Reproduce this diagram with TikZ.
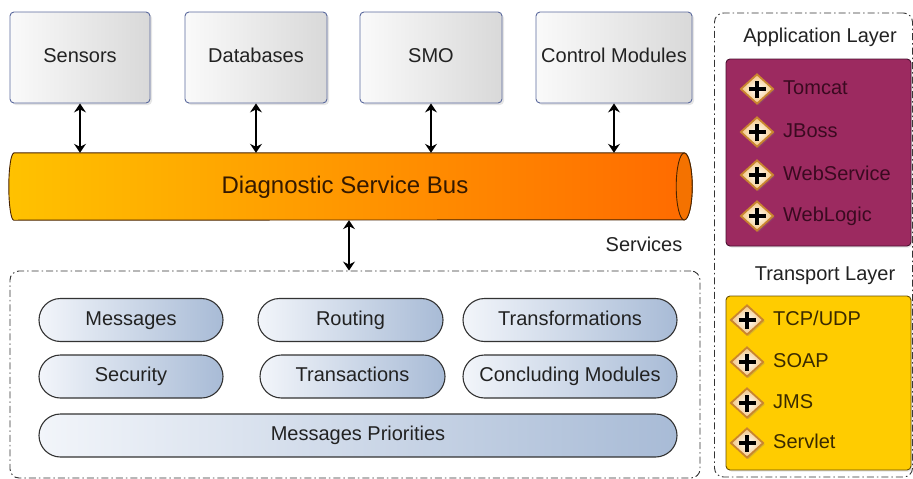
\documentclass[tikz,border=0pt]{standalone}
\usepackage{fontspec}
\setmainfont{Liberation Sans}
\usetikzlibrary{shapes.misc,shapes.geometric,arrows.meta,shadows}
\definecolor{boxborder}{HTML}{5B6A9E}
\definecolor{txt}{HTML}{222222}
\definecolor{busL}{HTML}{FFC200}
\definecolor{busR}{HTML}{FF6A00}
\definecolor{busface}{HTML}{F47200}
\definecolor{busline}{HTML}{4A2400}
\definecolor{pillL}{HTML}{F2F5FA}
\definecolor{pillR}{HTML}{A8BBD6}
\definecolor{purple1}{HTML}{9C2A60}
\definecolor{purpleline}{HTML}{4A1030}
\definecolor{purpletxt}{HTML}{3A0A20}
\definecolor{yellow1}{HTML}{FFCC00}
\definecolor{yellowline}{HTML}{6B5000}
\definecolor{yellowtxt}{HTML}{3A2A00}
\definecolor{iconedge}{HTML}{C9852F}
\definecolor{iconglow}{HTML}{F3C47E}
\tikzset{
  txtfix/.style={text height=14.5pt, text depth=4pt},
  topbox/.style={draw=boxborder, line width=0.9pt, rounded corners=4pt,
    left color=white!96!gray, right color=gray!30, minimum height=91pt,
    inner sep=0pt, font=\fontsize{20}{24}\selectfont, text=txt, txtfix,
    drop shadow={opacity=0.2, shadow xshift=2pt, shadow yshift=-2pt}},
  biarrow/.style={{Stealth[length=9pt,width=12pt,inset=3pt]}-{Stealth[length=9pt,width=12pt,inset=3pt]}, line width=1.4pt, black},
  pill/.style={rounded rectangle, draw=black!80, line width=1.1pt,
    left color=pillL, right color=pillR, minimum height=43pt, inner sep=0pt,
    font=\fontsize{20}{24}\selectfont, text=txt, txtfix},
  dashbox/.style={draw=black!80, line width=0.9pt, rounded corners=9pt,
    dash pattern=on 7pt off 3pt on 1.5pt off 3pt, inner sep=0pt},
  lbl/.style={font=\fontsize{20}{24}\selectfont, text=txt, inner sep=0pt, txtfix},
  iconmark/.style={diamond, minimum width=33pt, minimum height=30pt, inner sep=0pt,
    draw=iconedge, line width=1.8pt, inner color=white, outer color=iconglow,
    drop shadow={opacity=0.3, shadow xshift=1.5pt, shadow yshift=-1.5pt},
    path picture={\draw[line width=3.6pt,black]
      ([xshift=-8.5pt]path picture bounding box.center) -- ([xshift=8.5pt]path picture bounding box.center)
      ([yshift=-8.5pt]path picture bounding box.center) -- ([yshift=8.5pt]path picture bounding box.center);}},
  itemtxt/.style={anchor=west, font=\fontsize{20}{24}\selectfont, inner sep=0pt, txtfix},
}
\begin{document}
\begin{tikzpicture}[x=1pt,y=-1pt]
\useasboundingbox (0,0) rectangle (913,479);
\fill[white] (0,0) rectangle (913,479);

% top boxes
\node[topbox, minimum width=140pt] (sensors) at (80,57.5) {Sensors};
\node[topbox, minimum width=142pt] (databases) at (256,57.5) {Databases};
\node[topbox, minimum width=142pt] (smo) at (431,57.5) {SMO};
\node[topbox, minimum width=156pt] (control) at (614,57.5) {Control Modules};

% bus
\node[minimum width=670pt, minimum height=67pt, inner sep=0pt] (bus) at (349,186.5) {};
\shade[left color=busL, right color=busR, draw=busline, line width=0.9pt]
  (bus.north west) -- (bus.north east) arc(-90:90:8 and 33.5)
  -- (bus.south west) arc(90:270:5 and 33.5) -- cycle;
\draw[busline, line width=0.9pt, fill=busface] (bus.east) ellipse (8 and 33.5);
\node[font=\fontsize{24}{28}\selectfont, text=busline!70!black, text height=17pt, text depth=5pt] (bustxt) at (345,187) {Diagnostic Service Bus};

\draw[biarrow] (sensors.south) -- (sensors.south |- bus.north);
\draw[biarrow] (databases.south) -- (databases.south |- bus.north);
\draw[biarrow] (smo.south) -- (smo.south |- bus.north);
\draw[biarrow] (control.south) -- (control.south |- bus.north);

% services
\node[dashbox, minimum width=690pt, minimum height=207pt] (svc) at (355,374.5) {};
\node[lbl] (svclbl) at (644,246) {Services};
\draw[biarrow] (bus.south) -- (bus.south |- svc.north);

\node[pill, minimum width=184pt] (messages) at (131,320) {Messages};
\node[pill, minimum width=185pt] (routing) at (350.5,320) {Routing};
\node[pill, minimum width=214pt] (transf) at (570,320) {Transformations};
\node[pill, minimum width=184pt] (security) at (131,376.5) {Security};
\node[pill, minimum width=185pt] (transact) at (352.5,376.5) {Transactions};
\node[pill, minimum width=214pt] (concl) at (570,376.5) {Concluding Modules};
\node[pill, minimum width=638pt] (prio) at (358,435.5) {Messages Priorities};

% right panel
\node[dashbox, minimum width=198pt, minimum height=464pt] (right) at (813.5,245) {};
\node[lbl] (applbl) at (820,37) {Application Layer};
\node[draw=purpleline, fill=purple1, line width=0.9pt, rounded corners=4pt,
  minimum width=185pt, minimum height=187pt, inner sep=0pt,
  drop shadow={opacity=0.2, shadow xshift=1.5pt, shadow yshift=-1.5pt}] (app) at (818.5,152.5) {};
\node[iconmark] (i1) at (757,89) {};
\node[itemtxt, text=purpletxt] (t1) at (783,89) {Tomcat};
\node[iconmark] (i2) at (757,132) {};
\node[itemtxt, text=purpletxt] (t2) at (783,132) {JBoss};
\node[iconmark] (i3) at (757,175) {};
\node[itemtxt, text=purpletxt] (t3) at (783,175) {WebService};
\node[iconmark] (i4) at (757,216) {};
\node[itemtxt, text=purpletxt] (t4) at (783,216) {WebLogic};

\node[lbl] (trlbl) at (825,275) {Transport Layer};
\node[draw=yellowline, fill=yellow1, line width=0.9pt, rounded corners=4pt,
  minimum width=185pt, minimum height=174pt, inner sep=0pt,
  drop shadow={opacity=0.2, shadow xshift=1.5pt, shadow yshift=-1.5pt}] (tr) at (818.5,383) {};
\node[iconmark] (j1) at (747,320) {};
\node[itemtxt, text=yellowtxt] (u1) at (773,320) {TCP/UDP};
\node[iconmark] (j2) at (747,362) {};
\node[itemtxt, text=yellowtxt] (u2) at (773,362) {SOAP};
\node[iconmark] (j3) at (747,403) {};
\node[itemtxt, text=yellowtxt] (u3) at (773,403) {JMS};
\node[iconmark] (j4) at (747,443) {};
\node[itemtxt, text=yellowtxt] (u4) at (773,443) {Servlet};
\end{tikzpicture}
\end{document}
